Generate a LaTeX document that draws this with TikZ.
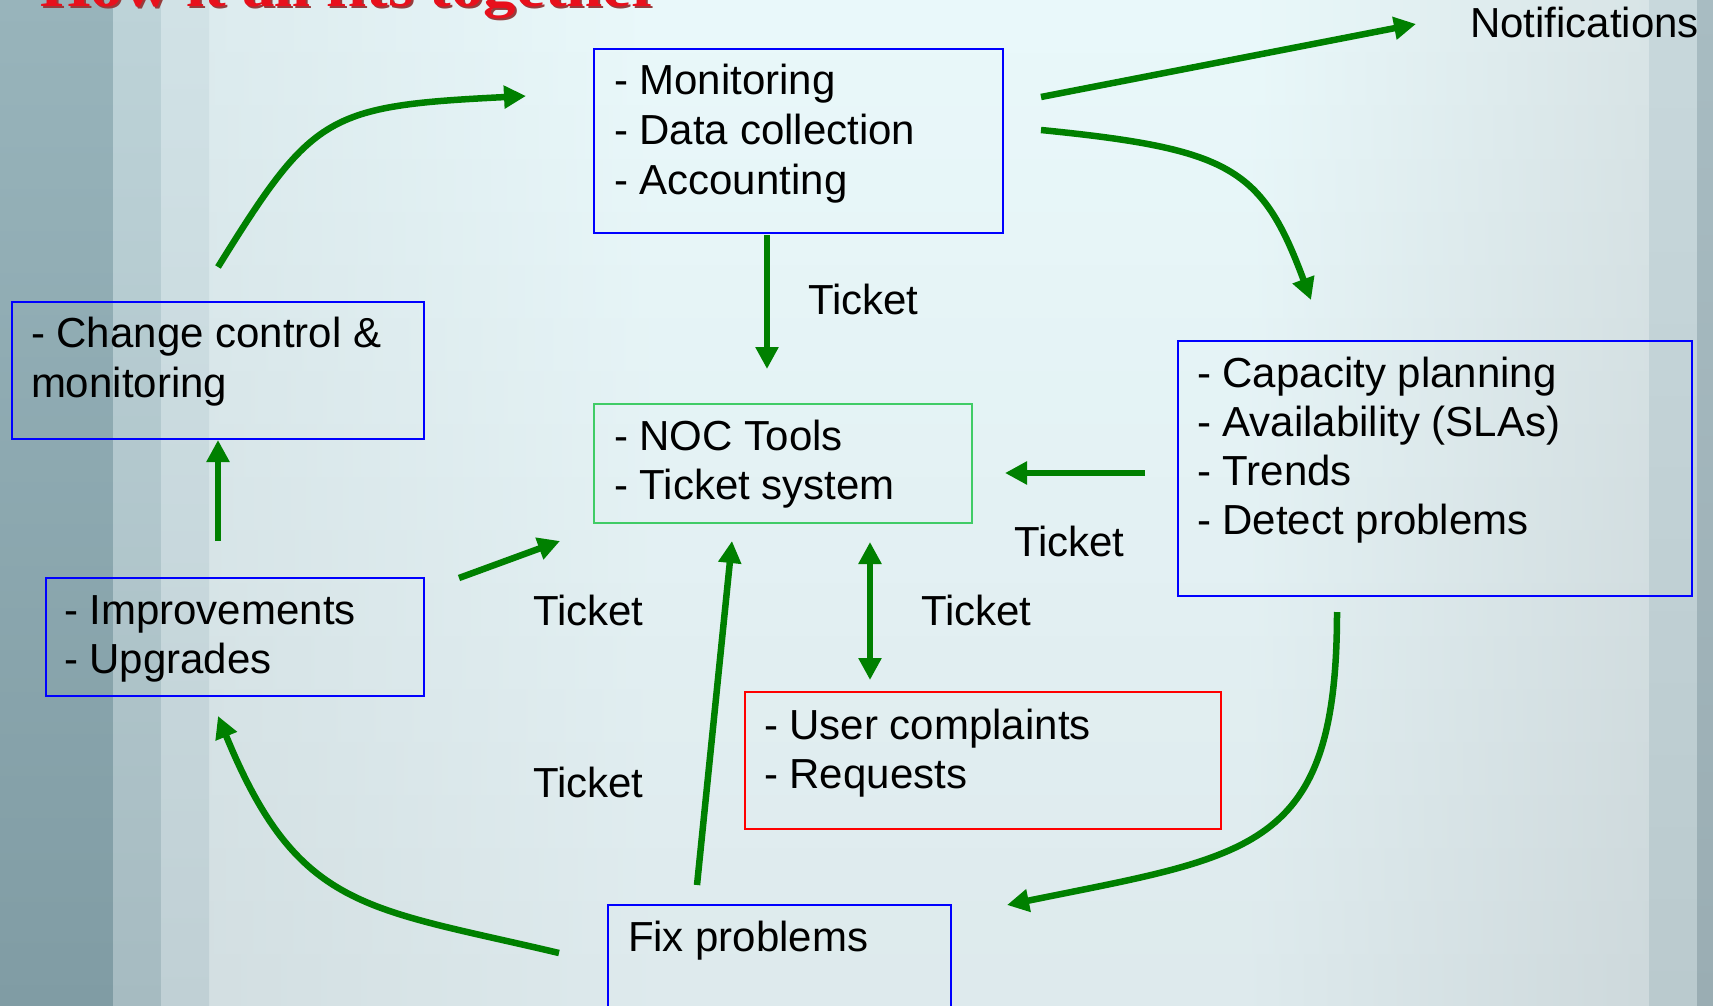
\documentclass[tikz,border=0pt]{standalone}
\usepackage{fontspec}
\setmainfont{Liberation Sans}
\newfontfamily\titlefont{Liberation Serif}
\usetikzlibrary{arrows.meta}
\definecolor{arrgreen}{RGB}{0,128,0}
\definecolor{boxblue}{RGB}{0,0,255}
\definecolor{boxgreen}{RGB}{64,204,102}
\definecolor{boxred}{RGB}{255,0,0}
\definecolor{titlered}{RGB}{232,16,28}
\definecolor{titleshade}{RGB}{150,60,60}
\definecolor{bgLt}{HTML}{DCEBEE}
\definecolor{bgLb}{HTML}{D2DEE1}
\definecolor{bgMt}{HTML}{E9F8FA}
\definecolor{bgMb}{HTML}{DDE9EC}
\definecolor{bgRt}{HTML}{D8E4E6}
\definecolor{bgRb}{HTML}{CDD8DB}
\definecolor{sAt}{HTML}{98B4BB}
\definecolor{sAb}{HTML}{809CA4}
\definecolor{sBt}{HTML}{BDD3D8}
\definecolor{sBb}{HTML}{A6BBC1}
\definecolor{sCt}{HTML}{D1E2E6}
\definecolor{sCb}{HTML}{C0D0D5}
\definecolor{rAt}{HTML}{C8D8DC}
\definecolor{rAb}{HTML}{BACACE}
\definecolor{rBt}{HTML}{A8BCC2}
\definecolor{rBb}{HTML}{9AADB3}
\begin{document}
\begin{tikzpicture}[x=1pt,y=-1pt,
  box/.style={draw=#1, line width=2.5pt, inner sep=0pt, outer sep=0pt, anchor=north west},
  txt/.style={anchor=base west, inner sep=0pt, outer sep=0pt, font=\fontsize{42}{50}\selectfont, text=black},
  arr/.style={draw=arrgreen, line width=6.5pt, -{Triangle[length=22pt,width=22pt]}},
  dblarr/.style={draw=arrgreen, line width=6.5pt, {Triangle[length=22pt,width=22pt]}-{Triangle[length=22pt,width=22pt]}},
  ttl/.style={anchor=base west, inner sep=0pt, outer sep=0pt, font=\titlefont\bfseries\fontsize{56}{60}\selectfont}
  ]
\useasboundingbox (0,0) rectangle (1713,1006);
\clip (0,0) rectangle (1713,1006);
% background: horizontal bands, each shaded left-right
\foreach \i [evaluate=\i as \p using 100*\i/19, evaluate=\i as \yy using \i*53] in {0,...,19} {
  \colorlet{cL}{bgLb!\p!bgLt}
  \colorlet{cM}{bgMb!\p!bgMt}
  \colorlet{cR}{bgRb!\p!bgRt}
  \fill[left color=cL, right color=cM] (208,\yy) rectangle (651,\yy+54);
  \fill[cM] (650,\yy) rectangle (1251,\yy+54);
  \fill[left color=cM, right color=cR] (1250,\yy) rectangle (1650,\yy+54);
}
\fill[top color=sAt, bottom color=sAb] (0,0) rectangle (113,1006);
\fill[top color=sBt, bottom color=sBb] (113,0) rectangle (161,1006);
\fill[top color=sCt, bottom color=sCb] (161,0) rectangle (209,1006);
\fill[top color=rAt, bottom color=rAb] (1649,0) rectangle (1697,1006);
\fill[top color=rBt, bottom color=rBb] (1697,0) rectangle (1713,1006);

% title (cut off at top, as in the reference)
\node[ttl, text=titleshade] (titleshadow) at (42,9) {\scalebox{1.16}[1]{How it all fits together}};
\node[ttl, text=titlered] (title) at (40,6.5) {\scalebox{1.16}[1]{How it all fits together}};

% boxes
\node[box=boxblue, minimum width=409pt, minimum height=184pt] (mon) at (594,49) {};
\node[box=boxblue, minimum width=412pt, minimum height=137pt] (chg) at (12,302) {};
\node[box=boxgreen, minimum width=378pt, minimum height=119pt] (noc) at (594,404) {};
\node[box=boxblue, minimum width=514pt, minimum height=255pt] (cap) at (1178,341) {};
\node[box=boxblue, minimum width=378pt, minimum height=118pt] (imp) at (46,578) {};
\node[box=boxred, minimum width=476pt, minimum height=137pt] (usr) at (745,692) {};
\node[box=boxblue, minimum width=343pt, minimum height=130pt] (fix) at (608,905) {};

% box texts
\node[txt] (mon1) at (614,95) {- Monitoring};
\node[txt] (mon2) at (614,144.5) {- Data collection};
\node[txt] (mon3) at (614,194) {- Accounting};
\node[txt] (chg1) at (31,347) {- Change control \&};
\node[txt] (chg2) at (31,397) {monitoring};
\node[txt] (noc1) at (614,450) {- NOC Tools};
\node[txt] (noc2) at (614,499) {- Ticket system};
\node[txt] (cap1) at (1197,387) {- Capacity planning};
\node[txt] (cap2) at (1197,436) {- Availability (SLAs)};
\node[txt] (cap3) at (1197,485) {- Trends};
\node[txt] (cap4) at (1197,534) {- Detect problems};
\node[txt] (imp1) at (64,624) {- Improvements};
\node[txt] (imp2) at (64,673) {- Upgrades};
\node[txt] (usr1) at (764,739) {- User complaints};
\node[txt] (usr2) at (764,788) {- Requests};
\node[txt] (fix1) at (628,951) {Fix problems};

% free labels
\node[txt] (notif) at (1470,38) {Notifications};
\node[txt] (tk1) at (808,314) {Ticket};
\node[txt] (tk2) at (1014,556) {Ticket};
\node[txt] (tk3) at (921,625) {Ticket};
\node[txt] (tk4) at (533,625) {Ticket};
\node[txt] (tk5) at (533,797) {Ticket};

% arrow end points
\coordinate (aS) at (767,235);   \coordinate (aE) at (767,369);
\coordinate (bS) at (1041,97);   \coordinate (bE) at (1416,24);
\coordinate (cS) at (1041,130);  \coordinate (cE) at (1311,300);
\coordinate (dS) at (218,267);   \coordinate (dE) at (526,96);
\coordinate (eS) at (218,541);   \coordinate (eE) at (218,440);
\coordinate (fS) at (459,578);   \coordinate (fE) at (560,541);
\coordinate (gS) at (697,885);   \coordinate (gE) at (732,541);
\coordinate (hS) at (870,542);   \coordinate (hE) at (870,680);
\coordinate (iS) at (1145,473);  \coordinate (iE) at (1005,473);
\coordinate (jS) at (1337,612);  \coordinate (jE) at (1007,905);
\coordinate (kS) at (559,953);   \coordinate (kE) at (218,716);

% arrows
\draw[arr] (aS) -- (aE);
\draw[arr] (bS) -- (bE);
\draw[arr] (cS) .. controls (1231,149) and (1262,168) .. (cE);
\draw[arr] (dS) .. controls (313,114) and (326,106) .. (dE);
\draw[arr] (eS) -- (eE);
\draw[arr] (fS) -- (fE);
\draw[arr] (gS) -- (gE);
\draw[dblarr] (hS) -- (hE);
\draw[arr] (iS) -- (iE);
\draw[arr] (jS) .. controls (1337,852) and (1252,855) .. (jE);
\draw[arr] (kS) .. controls (365,907) and (298,911) .. (kE);
\end{tikzpicture}
\end{document}
